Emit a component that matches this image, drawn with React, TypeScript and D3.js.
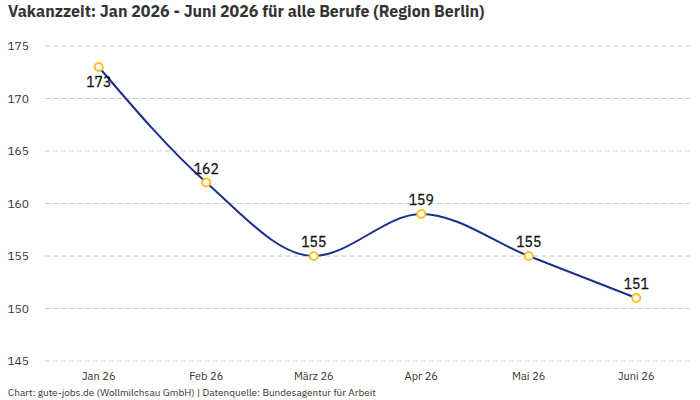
import {useEffect, useRef} from "react";
import * as d3 from "d3";

const months = ["Jan 26", "Feb 26", "März 26", "Apr 26", "Mai 26", "Juni 26"];
const vakanzTage = [173, 162, 155, 159, 155, 151];
const yTicks = [145, 150, 155, 160, 165, 170, 175];

const W = 700, H = 400;
const font = "'IBM Plex Sans', Roboto, 'Noto Sans', sans-serif";

const App = () => {
    const svgRef = useRef<SVGSVGElement>(null);

    useEffect(() => {
        const svg = d3.select(svgRef.current);
        svg.selectAll("*").remove();

        const left = 45, right = 690, top = 46, bottom = 361;

        const x = d3.scalePoint<string>().domain(months).range([left, right]).padding(0.5);
        const y = d3.scaleLinear().domain([145, 175]).range([bottom, top]);

        // title
        svg.append("text")
            .attr("x", 8).attr("y", 17)
            .attr("font-size", 16).attr("font-weight", 700)
            .attr("fill", "#333")
            .text("Vakanzzeit: Jan 2026 - Juni 2026 für alle Berufe (Region Berlin)");

        // grid + y labels
        const grid = svg.append("g");
        grid.selectAll("line").data(yTicks).enter().append("line")
            .attr("x1", left).attr("x2", right)
            .attr("y1", d => y(d)).attr("y2", d => y(d))
            .attr("stroke", "#ccc").attr("stroke-dasharray", "5,3");
        grid.selectAll("text").data(yTicks).enter().append("text")
            .attr("x", 29).attr("y", d => y(d) + 4)
            .attr("text-anchor", "end").attr("font-size", 12).attr("fill", "#333")
            .text(d => d);

        // x labels
        svg.append("g").selectAll("text").data(months).enter().append("text")
            .attr("x", d => x(d)!).attr("y", 380)
            .attr("text-anchor", "middle").attr("font-size", 11).attr("fill", "#333")
            .text(d => d);

        const pts = months.map((m, i) => ({m, v: vakanzTage[i]}));

        const line = d3.line<{m: string, v: number}>()
            .x(d => x(d.m)!).y(d => y(d.v))
            .curve(d3.curveMonotoneX);

        svg.append("path").datum(pts)
            .attr("d", line)
            .attr("fill", "none").attr("stroke", "#1b2f91").attr("stroke-width", 2);

        svg.append("g").selectAll("circle").data(pts).enter().append("circle")
            .attr("cx", d => x(d.m)!).attr("cy", d => y(d.v)).attr("r", 4)
            .attr("fill", "#fff").attr("stroke", "#f7c325").attr("stroke-width", 2);

        // value labels, the first one sits below its point
        svg.append("g").selectAll("text").data(pts).enter().append("text")
            .attr("x", d => x(d.m)!)
            .attr("y", (d, i) => i === 0 ? y(d.v) + 20 : y(d.v) - 9)
            .attr("text-anchor", "middle").attr("font-size", 14)
            .attr("fill", "#111").attr("stroke", "#111").attr("stroke-width", 0.3)
            .text(d => d.v);

        // source
        svg.append("text")
            .attr("x", 8).attr("y", 396)
            .attr("font-size", 10).attr("fill", "#333")
            .text("Chart: gute-jobs.de (Wollmilchsau GmbH) | Datenquelle: Bundesagentur für Arbeit");
    }, []);

    return (
        <svg ref={svgRef} width={W} height={H}
             style={{position: "absolute", left: 0, top: 0, fontFamily: font, background: "#fff"}}/>
    );
};

export default App;
